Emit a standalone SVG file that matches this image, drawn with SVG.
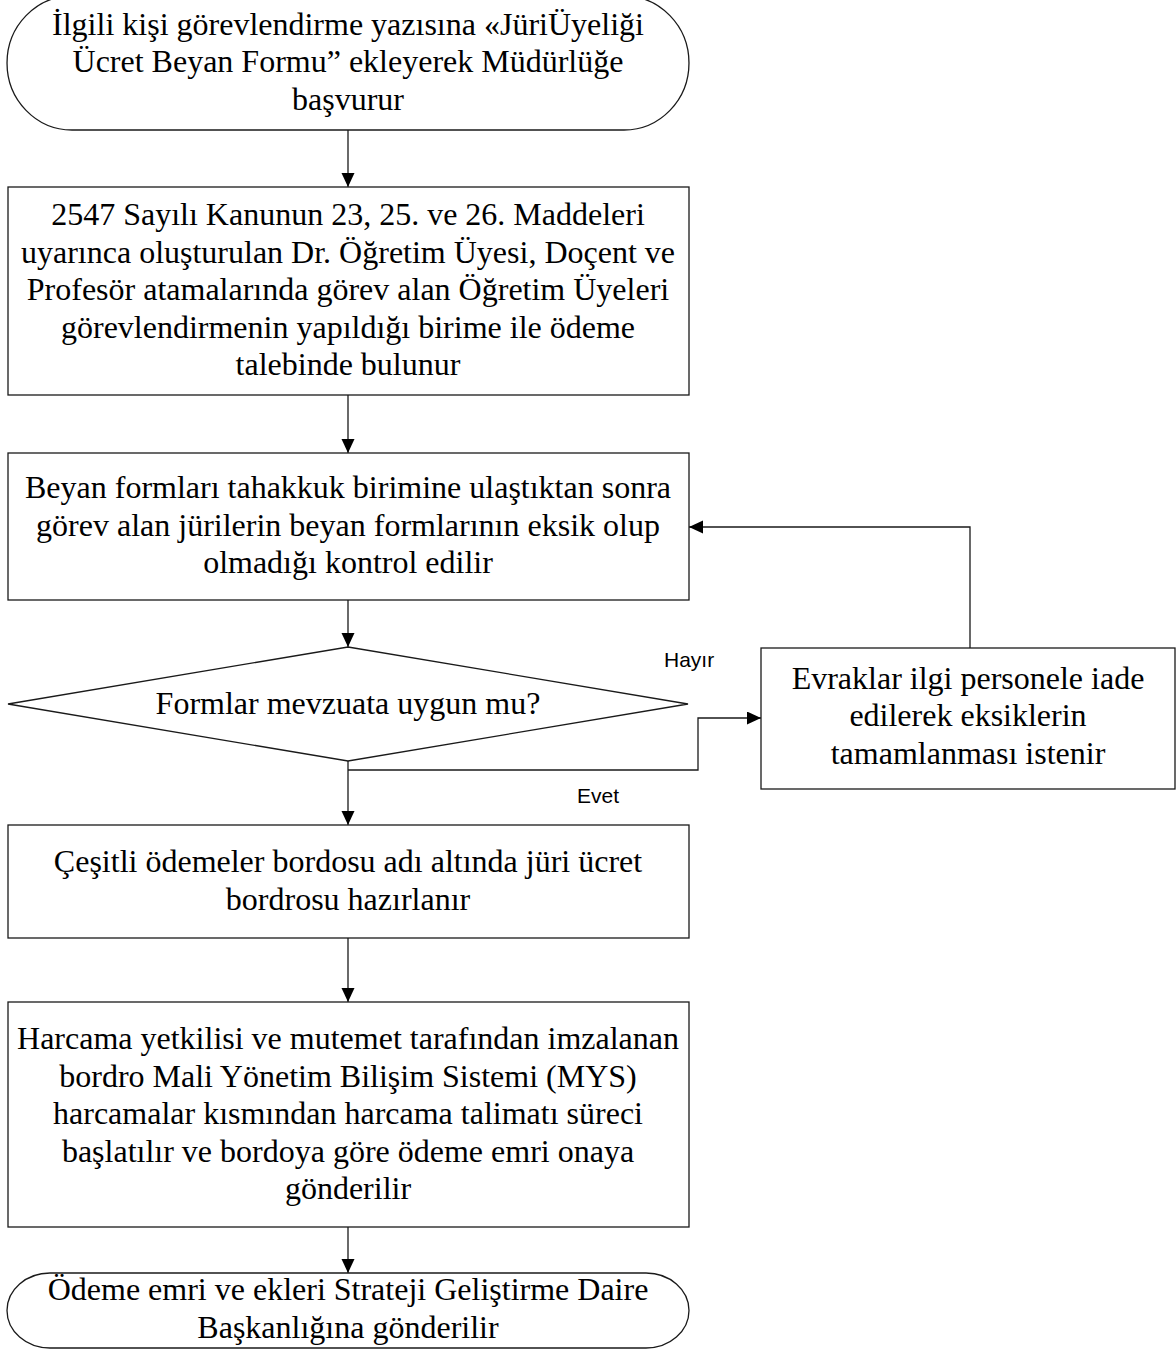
<svg xmlns="http://www.w3.org/2000/svg" width="1176" height="1351" viewBox="0 0 1176 1351">
<style>
.shape{fill:#ffffff;stroke:#1a1a1a;stroke-width:1.3}
.t{font-family:"Liberation Serif","Times New Roman",serif;font-size:32px;fill:#000;text-anchor:middle}
.lbl{font-family:"Liberation Sans",Arial,sans-serif;font-size:21px;fill:#000}
.c{fill:none;stroke:#1a1a1a;stroke-width:1.3}
</style>
<defs>
<marker id="ah" markerUnits="userSpaceOnUse" markerWidth="14" markerHeight="14" refX="14" refY="6.5" orient="auto">
<path d="M0,0 L14,6.5 L0,13 Z" fill="#000"/>
</marker>
</defs>
<rect width="1176" height="1351" fill="#ffffff"/>
<g id="connectors">
<path class="c" d="M348,130 V187" marker-end="url(#ah)"/>
<path class="c" d="M348,395 V453" marker-end="url(#ah)"/>
<path class="c" d="M348,600 V647" marker-end="url(#ah)"/>
<path class="c" d="M348,761 V825" marker-end="url(#ah)"/>
<path class="c" d="M348,770 H698 V718 H761" marker-end="url(#ah)"/>
<path class="c" d="M970,648 V527 H689" marker-end="url(#ah)"/>
<path class="c" d="M348,938 V1002" marker-end="url(#ah)"/>
<path class="c" d="M348,1227 V1273" marker-end="url(#ah)"/>
<text class="lbl" x="664" y="667">Hayır</text>
<text class="lbl" x="577" y="803">Evet</text>
</g>
<g id="start">
<path class="shape" d="M72,130 H624 A65 67 0 0 0 624,-4 H72 A65 67 0 0 0 72,130 Z"/>
<text class="t" x="348" y="34.5">İlgili kişi görevlendirme yazısına «JüriÜyeliği</text>
<text class="t" x="348" y="72">Ücret Beyan Formu” ekleyerek Müdürlüğe</text>
<text class="t" x="348" y="109.5">başvurur</text>
</g>
<g id="step1">
<rect class="shape" x="8" y="187" width="681" height="208"/>
<text class="t" x="348" y="225">2547 Sayılı Kanunun 23, 25. ve 26. Maddeleri</text>
<text class="t" x="348" y="262.5">uyarınca oluşturulan Dr. Öğretim Üyesi, Doçent ve</text>
<text class="t" x="348" y="300">Profesör atamalarında görev alan Öğretim Üyeleri</text>
<text class="t" x="348" y="337.5">görevlendirmenin yapıldığı birime ile ödeme</text>
<text class="t" x="348" y="375">talebinde bulunur</text>
</g>
<g id="step2">
<rect class="shape" x="8" y="453" width="681" height="147"/>
<text class="t" x="348" y="498">Beyan formları tahakkuk birimine ulaştıktan sonra</text>
<text class="t" x="348" y="535.5">görev alan jürilerin beyan formlarının eksik olup</text>
<text class="t" x="348" y="573">olmadığı kontrol edilir</text>
</g>
<g id="decision">
<path class="shape" d="M348,647 L688,704 L348,761 L8,704 Z"/>
<text class="t" x="348" y="714">Formlar mevzuata uygun mu?</text>
</g>
<g id="return">
<rect class="shape" x="761" y="648" width="414" height="141"/>
<text class="t" x="968" y="688.5">Evraklar ilgi personele iade</text>
<text class="t" x="968" y="726">edilerek eksiklerin</text>
<text class="t" x="968" y="763.5">tamamlanması istenir</text>
</g>
<g id="step3">
<rect class="shape" x="8" y="825" width="681" height="113"/>
<text class="t" x="348" y="872">Çeşitli ödemeler bordosu adı altında jüri ücret</text>
<text class="t" x="348" y="909.5">bordrosu hazırlanır</text>
</g>
<g id="step4">
<rect class="shape" x="8" y="1002" width="681" height="225"/>
<text class="t" x="348" y="1049">Harcama yetkilisi ve mutemet tarafından imzalanan</text>
<text class="t" x="348" y="1086.5">bordro Mali Yönetim Bilişim Sistemi (MYS)</text>
<text class="t" x="348" y="1124">harcamalar kısmından harcama talimatı süreci</text>
<text class="t" x="348" y="1161.5">başlatılır ve bordoya göre ödeme emri onaya</text>
<text class="t" x="348" y="1199">gönderilir</text>
</g>
<g id="end">
<path class="shape" d="M50,1348 H646 A43 37.5 0 0 0 646,1273 H50 A43 37.5 0 0 0 50,1348 Z"/>
<text class="t" x="348" y="1300">Ödeme emri ve ekleri Strateji Geliştirme Daire</text>
<text class="t" x="348" y="1337.5">Başkanlığına gönderilir</text>
</g>
</svg>
